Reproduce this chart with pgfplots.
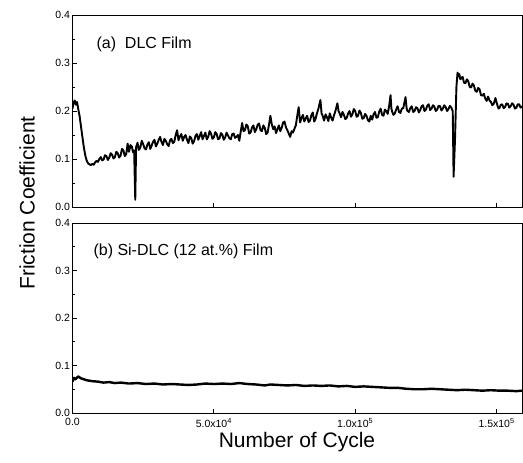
\documentclass[border=0pt]{standalone}
\usepackage{pgfplots}
\pgfplotsset{compat=1.18}
\usepackage{pgfplotstable}
\usepackage{fontspec}
\setmainfont{Liberation Sans}

% friction coefficient vs cycles (x in 10^3 cycles)
\pgfplotstableread{
k mu
0 0.205
0.4 0.218
0.8 0.222
1.2 0.213
1.6 0.219
2.0 0.205
2.5 0.19
3.0 0.168
3.5 0.146
4.0 0.125
4.5 0.108
5.0 0.097
5.5 0.091
6.0 0.089
6.5 0.087
7.0 0.09
7.5 0.088
8.0 0.093
8.5 0.096
9.0 0.094
9.5 0.1
10 0.104
10.5 0.097
11 0.099
11.5 0.108
12 0.106
12.5 0.098
13 0.103
13.5 0.112
14 0.109
14.5 0.101
15 0.104
15.5 0.115
16 0.112
16.5 0.103
17 0.107
17.5 0.121
18 0.118
18.5 0.106
19 0.11
19.5 0.132
20 0.115
20.5 0.129
21 0.126
21.4 0.114
21.8 0.118
22.2 0.015
22.5 0.125
23 0.134
23.5 0.119
24 0.124
24.5 0.138
25 0.131
25.5 0.122
26 0.12
26.5 0.13
27 0.135
27.5 0.121
28 0.128
28.5 0.136
29 0.14
29.5 0.126
30 0.132
30.5 0.14
31 0.146
31.5 0.135
32 0.129
32.5 0.142
33 0.138
33.5 0.131
34 0.127
34.5 0.139
35 0.142
35.5 0.133
36 0.136
36.5 0.15
37 0.16
37.5 0.139
38 0.147
38.5 0.152
39 0.138
39.5 0.146
40 0.15
40.5 0.14
41 0.133
41.5 0.147
42 0.144
42.5 0.132
43 0.137
43.5 0.148
44 0.152
44.5 0.14
45 0.148
45.5 0.156
46 0.141
46.5 0.148
47 0.155
47.5 0.141
48 0.146
48.5 0.158
49 0.153
49.5 0.142
50 0.145
50.5 0.156
51 0.152
51.5 0.141
52 0.143
52.5 0.154
53 0.151
53.5 0.14
54 0.145
54.5 0.155
55 0.149
55.5 0.143
56 0.141
56.5 0.152
57 0.153
57.5 0.144
58 0.146
58.5 0.15
59 0.138
59.5 0.157
60 0.175
60.5 0.158
61 0.16
61.5 0.172
62 0.168
62.5 0.153
63 0.155
63.5 0.166
64 0.17
64.5 0.156
65 0.162
65.5 0.171
66 0.174
66.5 0.16
67 0.158
67.5 0.17
68 0.165
68.5 0.152
69 0.155
69.5 0.171
70 0.19
70.5 0.172
71 0.162
71.5 0.168
72 0.154
72.5 0.162
73 0.17
73.5 0.158
74 0.165
74.5 0.176
75 0.178
75.5 0.166
76 0.16
76.5 0.153
77 0.146
77.5 0.158
78 0.155
78.5 0.163
79 0.17
79.5 0.19
80 0.208
80.5 0.176
81 0.185
81.5 0.192
82 0.178
82.5 0.185
83 0.19
83.5 0.177
84 0.18
84.5 0.191
85 0.197
85.5 0.178
86 0.184
86.5 0.196
87 0.205
87.7 0.223
88.1 0.195
88.5 0.19
89 0.18
89.5 0.193
90 0.187
90.5 0.179
91 0.195
91.5 0.186
92 0.18
92.5 0.191
93 0.2
93.7 0.216
94.1 0.2
94.5 0.195
95 0.187
95.5 0.198
96 0.192
96.5 0.183
97 0.186
97.5 0.195
98 0.2
98.5 0.188
99 0.193
99.5 0.204
100 0.2
100.5 0.188
101 0.19
101.5 0.201
102 0.196
102.5 0.184
103 0.185
103.5 0.194
104 0.19
104.5 0.181
105 0.178
105.5 0.19
106 0.182
106.5 0.193
107 0.198
107.5 0.186
108 0.187
108.5 0.199
109 0.205
109.5 0.192
110 0.19
110.5 0.203
111 0.2
111.5 0.194
112 0.21
112.5 0.233
112.8 0.205
113 0.2
113.5 0.192
114 0.195
114.5 0.203
115 0.21
115.5 0.198
116 0.196
116.5 0.205
117 0.206
117.8 0.229
118.2 0.205
118.5 0.2
119 0.198
119.5 0.206
120 0.21
120.5 0.198
121 0.2
121.5 0.208
122 0.206
122.5 0.197
123 0.202
123.5 0.21
124 0.212
124.5 0.2
125 0.203
125.5 0.211
126 0.214
126.5 0.202
127 0.205
127.5 0.212
128 0.209
128.5 0.2
129 0.203
129.5 0.211
130 0.21
130.5 0.201
131 0.205
131.5 0.212
132 0.208
132.5 0.2
133 0.204
133.5 0.211
134 0.207
134.5 0.2
134.8 0.063
135.3 0.14
135.8 0.25
136.2 0.28
136.5 0.272
136.8 0.277
137.2 0.266
137.5 0.268
138 0.271
138.5 0.259
139 0.258
139.5 0.266
140 0.262
140.5 0.25
141 0.249
141.5 0.257
142 0.253
142.5 0.242
143 0.24
143.5 0.248
144 0.245
144.5 0.233
145 0.232
145.5 0.236
146 0.226
146.5 0.221
147 0.23
147.5 0.222
148 0.219
148.5 0.212
149 0.215
149.6 0.227
150 0.218
150.3 0.212
150.7 0.205
151 0.206
151.5 0.213
152 0.214
152.5 0.206
153 0.208
153.5 0.216
154 0.215
154.5 0.207
155 0.21
155.5 0.216
156 0.213
156.5 0.205
157 0.207
157.5 0.214
158 0.214
158.5 0.207
159 0.21
}\dlc

\pgfplotstableread{
k mu
0 0.066
0.5 0.074
1 0.071
2 0.077
3 0.073
4 0.071
5 0.069
7 0.067
9 0.066
11 0.064
13 0.065
15 0.063
17 0.064
20 0.062
23 0.063
26 0.061
29 0.062
32 0.060
35 0.061
38 0.060
41 0.059
44 0.060
47 0.062
50 0.061
53 0.062
56 0.061
59 0.063
62 0.061
65 0.060
68 0.058
70 0.060
73 0.059
76 0.058
79 0.059
82 0.057
85 0.058
88 0.057
91 0.058
94 0.056
97 0.057
100 0.055
103 0.056
106 0.055
109 0.054
112 0.053
115 0.053
118 0.051
121 0.050
124 0.050
127 0.051
130 0.050
133 0.049
136 0.048
139 0.049
142 0.048
145 0.047
148 0.048
151 0.047
154 0.047
157 0.046
159 0.047
}\sidlc

\pgfplotsset{
  fcaxis/.style={
    scale only axis,
    width=449.5pt,
    xmin=0, xmax=159,
    ymin=0, ymax=0.4,
    xtick={0,50,100,150},
    ytick={0,0.1,0.2,0.3,0.4},
    yticklabels={0.0,0.1,0.2,0.3,0.4},
    minor ytick={0.05,0.15,0.25,0.35},
    xtick pos=bottom, ytick pos=left,
    tick align=inside,
    major tick length=4pt, minor tick length=2.5pt,
    tick style={black, line width=0.8pt},
    axis line style={line width=0.9pt},
    tick label style={font=\fontsize{10.5}{12}\selectfont},
    yticklabel style={xshift=1pt},
    xticklabel style={yshift=-2pt},
  }
}

\begin{document}
\begin{tikzpicture}
\path[use as bounding box] (0pt,0pt) rectangle (523pt,-463pt);

\begin{axis}[fcaxis, at={(72.5pt,-15pt)}, anchor=north west, height=192pt,
  xticklabels={}]
  \addplot[black, line width=1.9pt, line join=round] table[x=k, y=mu] {\dlc};
\end{axis}
\node[anchor=west, font=\fontsize{16}{19}\selectfont] at (93pt,-44pt) {(a)\ \ DLC Film};

\begin{axis}[fcaxis, at={(72.5pt,-223pt)}, anchor=north west, height=190pt,
  xticklabels={0.0, 5.0x10\textsuperscript{4}, 1.0x10\textsuperscript{5}, 1.5x10\textsuperscript{5}}]
  \addplot[black, line width=2.4pt, line join=round] table[x=k, y=mu] {\sidlc};
\end{axis}
\node[anchor=west, font=\fontsize{16}{19}\selectfont] at (90pt,-251pt) {(b) Si-DLC (12 at.\%) Film};

\node[rotate=90, font=\fontsize{21}{25}\selectfont] at (27pt,-203pt) {Friction Coefficient};
\node[font=\fontsize{21}{25}\selectfont] at (297pt,-442pt) {Number of Cycle};
\end{tikzpicture}
\end{document}
